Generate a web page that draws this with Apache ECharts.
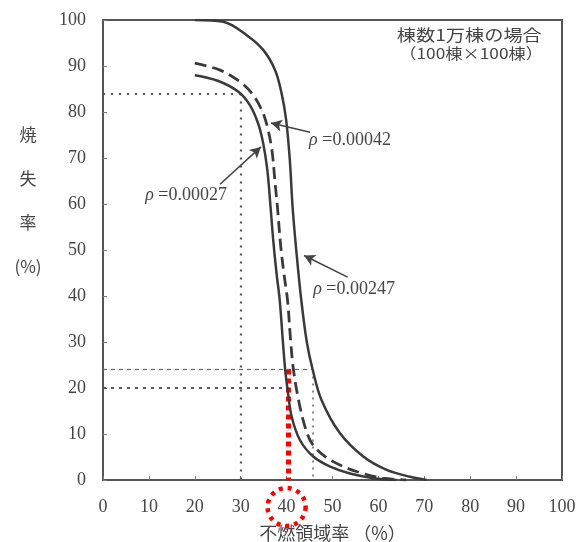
<!DOCTYPE html>
<html><head><meta charset="utf-8">
<script src="https://cdn.jsdelivr.net/npm/echarts@6/dist/echarts.min.js"></script>
<style>html,body{margin:0;padding:0;background:#fff}#c{width:576px;height:542px}</style>
</head><body><div id="c"></div>
<script>
// ---- data ----
const xRange = [0, 100];
const yRange = [0, 100];
const tickStep = 10;

const rho00027 = [[20,88],[25,86.8],[29.5,84.4],[32,81.5],[33.8,77.5],[34.9,73.2],[35.8,67.4],[36.5,59.4],[37.1,52],[37.8,45],[38.5,39.1],[39.2,30],[39.7,23.9],[40.2,19.8],[41.1,13.8],[42.9,8.7],[45.8,5.1],[49.5,2.9],[53.8,1.4],[58.9,0.4],[64,0]];
const rho00042 = [[20,90.6],[25.5,89.1],[29.8,86.6],[32.4,84.1],[34.6,80.4],[35.8,76.8],[36.8,71.7],[37.5,64.5],[38,59.4],[38.7,51],[39.4,45],[40.2,39.1],[40.9,30],[41.5,23.9],[42.6,17.4],[44,11.6],[45.5,8],[48.4,5.1],[52.4,2.9],[56.7,1.4],[61,0.4],[66,0]];
const rho00247 = [[20,100],[26.2,99.6],[31.3,96.7],[34.9,93.5],[37.5,89.1],[38.9,84.1],[39.9,78.3],[40.7,69.6],[41.3,59.4],[42.1,50],[43.2,39.1],[44.4,30],[45.7,23.9],[47.6,17.4],[51.6,10.2],[56.7,5.1],[61.8,2.2],[66.9,0.7],[70.5,0]];

// guide lines (data coords)
const guide84 = { x: 30, y: 84 };
const guide20 = { x: 40.4, y: 20 };
const guide24 = { x: 45.6, y: 24 };
const redX = 40.4, redTop = 24;

// rho labels and arrows (data coords)
const rhoLabels = ['ρ =0.00042', 'ρ =0.00027', 'ρ =0.00247'];
const rhoLabelAt = [[44.9, 73.9], [9.2, 62], [45.8, 41.5]];
const arrowFrom = [[45.1, 75.6], [25.5, 64.3], [53.3, 44.1]];
const arrowTo = [[36.6, 77.6], [34.4, 72.4], [43.8, 48.8]];

const noteLines = ['棟数1万棟の場合', '（100棟×100棟）'];
const yTitle = ['焼', '失', '率', '(%)'];
const xTitle = '不燃領域率 （%）';

// ---- chart ----
const chart = echarts.init(document.getElementById('c'));
const ink = '#3a3a3a';
const txt = '#454545';
const serif = 'Liberation Serif';

function seg(a, b, style) {
  return [{ coord: a, lineStyle: style }, { coord: b }];
}
const dotted = { color: '#555', width: 2.2, type: [2, 6] };
const guideData = [
  seg([0, guide84.y], [guide84.x, guide84.y], dotted),
  seg([guide84.x, guide84.y], [guide84.x, 0], dotted),
  seg([0, guide20.y], [guide20.x, guide20.y], { color: '#555', width: 2, type: [3, 5] }),
  seg([0, guide24.y], [guide24.x, guide24.y], { color: '#666', width: 1.2, type: [4, 4] }),
  seg([guide24.x, guide24.y], [guide24.x, 0], { color: '#666', width: 1.5, type: [2, 5] }),
  seg([redX, redTop], [redX, 0], { color: '#ff0000', width: 5, type: [5, 4] })
];
const arrowData = arrowFrom.map((f, i) => [{ coord: f }, { coord: arrowTo[i] }]);

const lineBase = { type: 'line', showSymbol: false, symbol: 'none', smooth: 0.35, silent: true, z: 3 };

chart.setOption({
  animation: false,
  grid: { left: 103, right: 14, top: 20, bottom: 62, show: true, borderColor: '#555', borderWidth: 2,
    containLabel: false, outerBoundsMode: 'none' },
  xAxis: {
    type: 'value', min: xRange[0], max: xRange[1], interval: tickStep,
    axisLine: { lineStyle: { color: '#555', width: 2 } },
    axisTick: { inside: true, length: 4, lineStyle: { color: '#777' } },
    splitLine: { show: false },
    axisLabel: { margin: 18, color: txt, fontFamily: serif, fontSize: 18 },
    name: xTitle, nameLocation: 'middle', nameGap: 44,
    nameTextStyle: { color: txt, fontFamily: 'Noto Sans CJK JP', fontSize: 18 }
  },
  yAxis: {
    type: 'value', min: yRange[0], max: yRange[1], interval: tickStep,
    axisLine: { lineStyle: { color: '#555', width: 2 } },
    axisTick: { inside: true, length: 4, lineStyle: { color: '#777' } },
    splitLine: { show: false },
    axisLabel: { margin: 17, color: txt, fontFamily: serif, fontSize: 18 }
  },
  series: [
    Object.assign({}, lineBase, { name: 'ρ=0.00027', data: rho00027, lineStyle: { color: ink, width: 2.5 },
      markLine: { silent: true, symbol: ['none', 'none'], label: { show: false }, animation: false, data: guideData, z: 2 } }),
    Object.assign({}, lineBase, { name: 'ρ=0.00042', data: rho00042, lineStyle: { color: ink, width: 2.8, type: [12, 6] },
      markLine: { silent: true, symbol: ['none', 'arrow'], symbolSize: [9, 11], label: { show: false }, animation: false,
        lineStyle: { color: '#444', width: 1.6, type: 'solid' }, data: arrowData } }),
    Object.assign({}, lineBase, { name: 'ρ=0.00247', data: rho00247, lineStyle: { color: ink, width: 2.5 } })
  ]
});

const px = v => chart.convertToPixel({ gridIndex: 0 }, v);
const graphics = [];
// y axis title (stacked)
yTitle.forEach((t, i) => {
  graphics.push({ type: 'text', x: 28, y: 135 + i * 44, style: {
    text: t, fill: txt, font: '17px "Noto Sans CJK JP"', textAlign: 'center', textVerticalAlign: 'middle' } });
});
// note box text
const n0 = px([79.8, 96.7]), n1 = px([80.2, 92.7]);
graphics.push({ type: 'text', x: n0[0], y: n0[1], scaleX: 1.2, style: { text: noteLines[0], fill: txt, font: '16px "Noto Sans CJK JP"', textAlign: 'center', textVerticalAlign: 'middle' } });
graphics.push({ type: 'text', x: n1[0], y: n1[1], scaleX: 1.15, style: { text: noteLines[1], fill: txt, font: '15px "Noto Sans CJK JP"', textAlign: 'center', textVerticalAlign: 'middle' } });
// rho labels
rhoLabels.forEach((t, i) => {
  const p = px(rhoLabelAt[i]);
  graphics.push({ type: 'text', x: p[0], y: p[1], style: {
    text: '{i|ρ} ' + t.replace('ρ ', ''), fill: txt, font: '18px "' + serif + '"', textAlign: 'left', textVerticalAlign: 'middle',
    rich: { i: { fontStyle: 'italic', fontFamily: serif, fontSize: 18, fill: txt } } } });
});
// red dotted circle around label 40
const c40 = px([40, 0]);
graphics.push({ type: 'circle', shape: { cx: c40[0], cy: c40[1] + 27, r: 19 }, style: { fill: 'none', stroke: '#ff0000', lineWidth: 4.5, lineDash: [4, 5] }, z: 10 });

chart.setOption({ graphic: graphics });
</script>
</body></html>
